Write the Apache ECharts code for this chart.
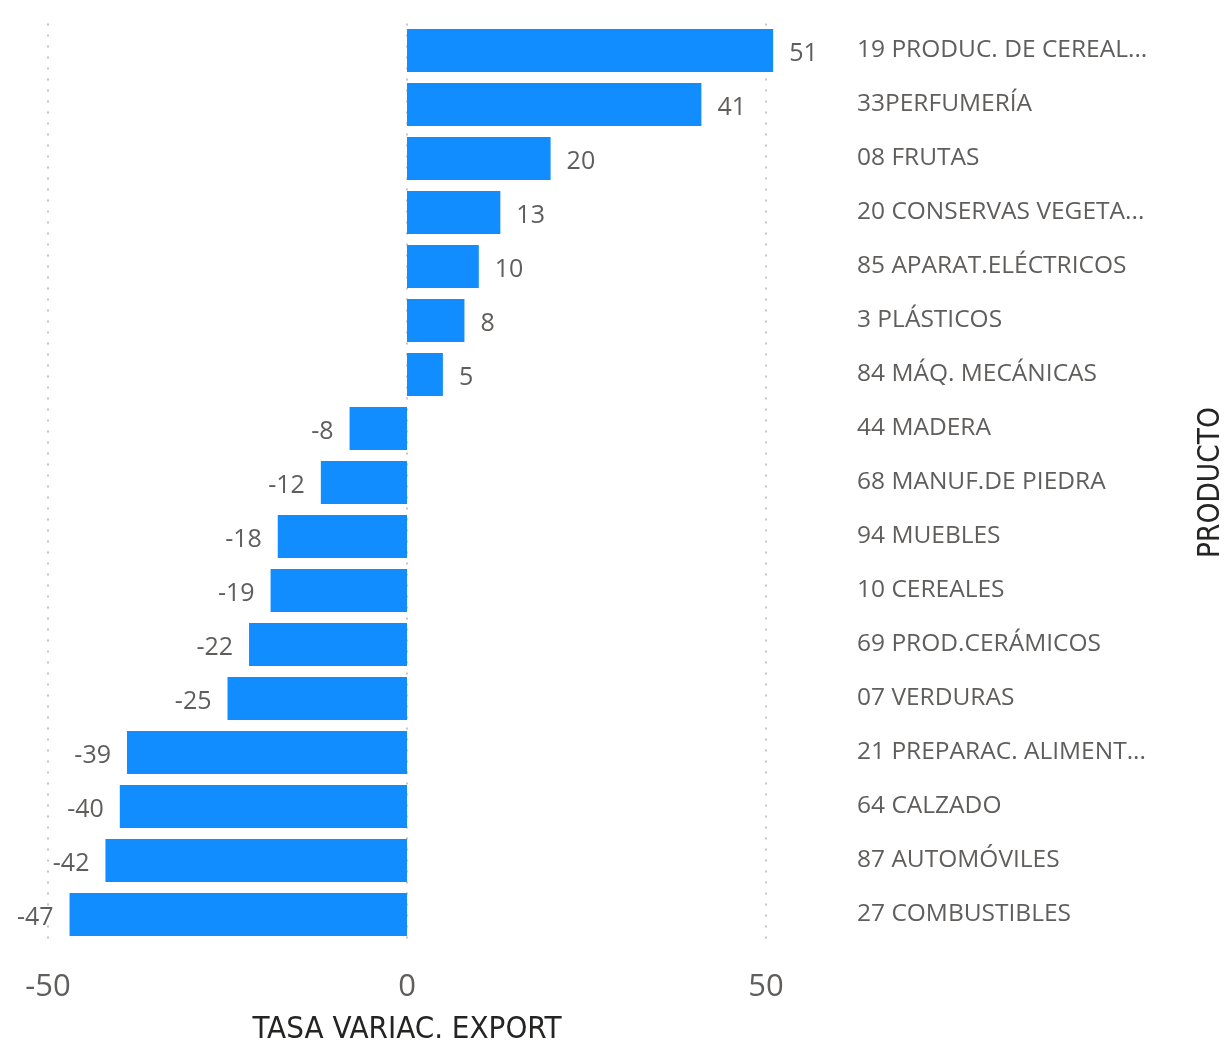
<!DOCTYPE html>
<html>
<head>
<meta charset="utf-8">
<script src="https://cdn.jsdelivr.net/npm/echarts@6/dist/echarts.min.js"></script>
<style>html,body{margin:0;padding:0;background:#fff;overflow:hidden}#c{width:1227px;height:1042px}</style>
</head>
<body>
<div id="c"></div>
<script>
const categories = [
  "19 PRODUC. DE CEREAL...",
  "33PERFUMERÍA",
  "08 FRUTAS",
  "20 CONSERVAS VEGETA...",
  "85 APARAT.ELÉCTRICOS",
  "3 PLÁSTICOS",
  "84 MÁQ. MECÁNICAS",
  "44 MADERA",
  "68 MANUF.DE PIEDRA",
  "94 MUEBLES",
  "10 CEREALES",
  "69 PROD.CERÁMICOS",
  "07 VERDURAS",
  "21 PREPARAC. ALIMENT...",
  "64 CALZADO",
  "87 AUTOMÓVILES",
  "27 COMBUSTIBLES"
];
const values = [51, 41, 20, 13, 10, 8, 5, -8, -12, -18, -19, -22, -25, -39, -40, -42, -47];
const xTicks = [-50, 0, 50];

const chart = echarts.init(document.getElementById('c'));
chart.setOption({
  animation: false,
  grid: { left: 48, width: 718, top: 23.5, height: 918, containLabel: false, outerBoundsMode: 'none' },
  xAxis: {
    type: 'value',
    min: xTicks[0], max: xTicks[xTicks.length - 1], interval: 50,
    axisLine: { show: false }, axisTick: { show: false },
    splitLine: { show: true, lineStyle: { type: [2, 9], color: '#C8C6C4', width: 2 } },
    axisLabel: { color: '#605E5C', fontSize: 31, fontFamily: 'Open Sans', margin: 30 },
    name: 'TASA VARIAC. EXPORT', nameLocation: 'middle', nameGap: 73,
    nameTextStyle: { color: '#252423', fontSize: 31, fontFamily: 'DejaVu Sans Condensed' }
  },
  yAxis: {
    type: 'category', data: categories, inverse: true, position: 'right',
    axisLine: { show: false }, axisTick: { show: false },
    axisLabel: { color: '#605E5C', fontSize: 24.5, fontFamily: 'Open Sans', margin: 91, align: 'left' },
    name: 'PRODUCTO', nameLocation: 'middle', nameGap: 430, nameRotate: 90,
    nameTextStyle: { color: '#252423', fontSize: 29.5, fontFamily: 'DejaVu Sans Condensed' }
  },
  series: [{
    type: 'bar', clip: false, barCategoryGap: '20%',
    itemStyle: { color: '#118DFF' },
    data: values.map(v => ({ value: v, label: { position: v < 0 ? 'left' : 'right' } })),
    label: {
      show: true, color: '#605E5C', fontSize: 25, fontFamily: 'Open Sans', distance: 16,
      offset: [0, 3],
      formatter: p => String(p.value)
    }
  }]
});
</script>
</body>
</html>
